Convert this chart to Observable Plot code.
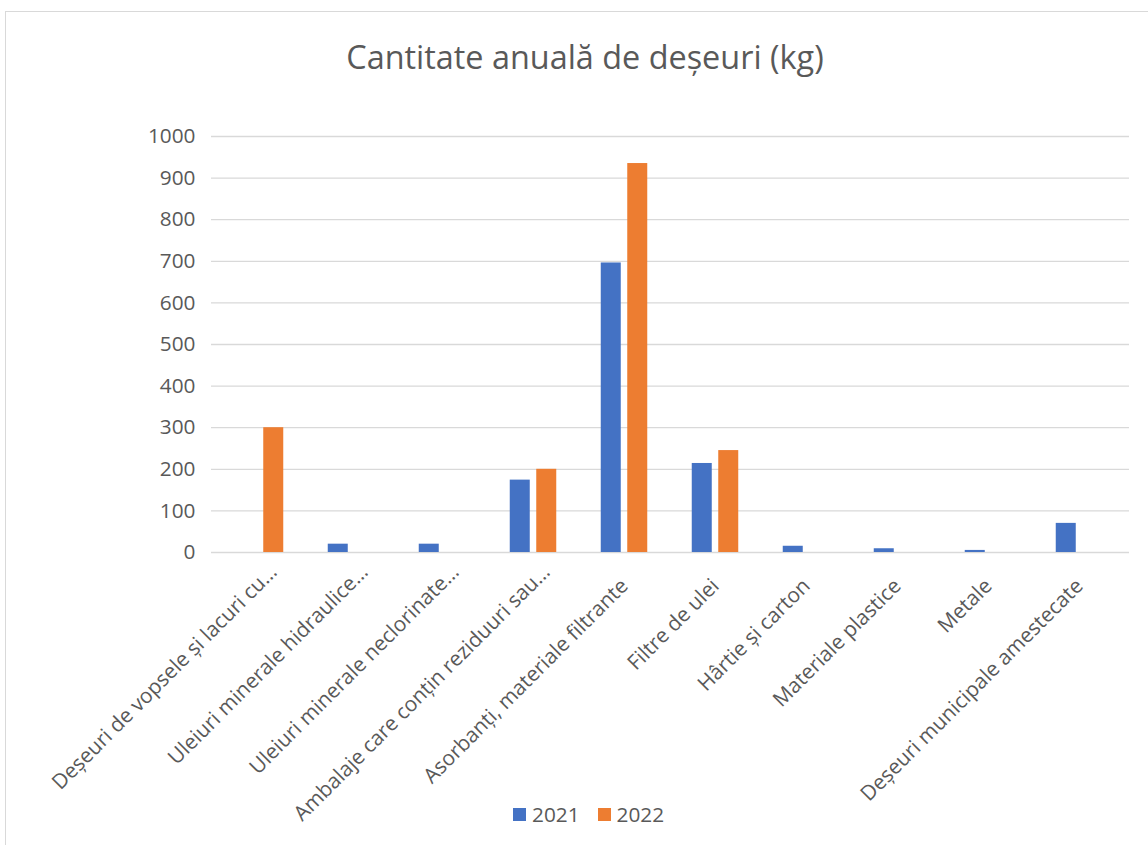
<!DOCTYPE html>
<html>
<head>
<meta charset="utf-8">
<script src="https://cdn.jsdelivr.net/npm/d3@7"></script>
<script src="https://cdn.jsdelivr.net/npm/@observablehq/plot@0.6"></script>
<style>
  html, body { margin: 0; padding: 0; background: #fff; overflow: hidden; }
  #page { position: relative; width: 1148px; height: 845px; overflow: hidden; font-family: "Open Sans", sans-serif; color: #595959; }
  #frame { position: absolute; left: 5px; top: 11px; width: 1300px; height: 1000px; border: 1px solid #d9d9d9; box-sizing: border-box; }
  #title { position: absolute; left: 0; top: 36px; width: 1170px; text-align: center; font-size: 32.4px; line-height: 40px; color: #595959; }
  #chart { position: absolute; left: 0; top: 85px; }
  #legend { position: absolute; left: 513px; top: 800px; display: flex; align-items: center; font-size: 20.8px; line-height: 28px; color: #595959; }
  .sw { width: 13px; height: 13px; display: inline-block; }
</style>
</head>
<body>
<div id="page">
  <div id="frame"></div>
  <div id="title"></div>
  <div id="chart"></div>
  <div id="legend"></div>
</div>
<script>
const titleText = "Cantitate anuală de deșeuri (kg)";
const categories = [
  "Deșeuri de vopsele și lacuri cu…",
  "Uleiuri minerale hidraulice…",
  "Uleiuri minerale neclorinate…",
  "Ambalaje care conțin reziduuri sau…",
  "Asorbanți, materiale filtrante",
  "Filtre de ulei",
  "Hârtie și carton",
  "Materiale plastice",
  "Metale",
  "Deșeuri municipale amestecate"
];
const years = ["2021", "2022"];
const values2021 = [0, 20, 20, 174, 696, 214, 15, 9, 5, 70];
const values2022 = [300, 0, 0, 200, 935, 245, 0, 0, 0, 0];
const yTicks = [0, 100, 200, 300, 400, 500, 600, 700, 800, 900, 1000];
const colors = ["#4472C4", "#ED7D31"];

document.getElementById("title").textContent = titleText;

const rows2021 = categories.map((c, i) => ({category: c, year: years[0], value: values2021[i]}));
const rows2022 = categories.map((c, i) => ({category: c, year: years[1], value: values2022[i]}));
const truncated = categories.filter(c => c.endsWith("…"));
const full = categories.filter(c => !c.endsWith("…"));

const chart = Plot.plot({
  width: 1148,
  height: 760,
  marginLeft: 211,
  marginRight: 19,
  marginTop: 51,
  marginBottom: 293,
  style: {fontFamily: "'Open Sans', sans-serif", fontSize: "20.8px", color: "#595959", background: "transparent"},
  x: {domain: categories, paddingInner: 0.777, paddingOuter: 0.3885, axis: null, label: null},
  y: {domain: [0, 1000], label: null, axis: null},
  color: {domain: years, range: colors},
  marks: [
    Plot.gridY(yTicks, {stroke: "#d9d9d9", strokeOpacity: 1, strokeWidth: 1.3}),
    Plot.axisY(yTicks, {tickSize: 0, tickPadding: 16, fill: "#595959", fontSize: 20.8, label: null, tickFormat: d => String(d)}),
    Plot.barY(rows2021, {x: "category", y: "value", fill: "year", dx: -13.25}),
    Plot.barY(rows2022, {x: "category", y: "value", fill: "year", dx: 13.25}),
    Plot.text(full, {x: d => d, text: d => d, frameAnchor: "bottom", rotate: -45, textAnchor: "end", lineAnchor: "middle", dy: 30, dx: 0, fill: "#595959", fontSize: 20.8}),
    Plot.text(truncated, {x: d => d, text: d => d, frameAnchor: "bottom", rotate: -45, textAnchor: "end", lineAnchor: "middle", dy: 16, dx: 13, fill: "#595959", fontSize: 20.8})
  ]
});
document.getElementById("chart").appendChild(chart);

const legend = document.getElementById("legend");
years.forEach((y, i) => {
  const sw = document.createElement("span");
  sw.className = "sw";
  sw.style.background = colors[i];
  sw.style.marginRight = "6px";
  sw.style.marginLeft = i === 0 ? "0px" : "18px";
  const t = document.createElement("span");
  t.textContent = y;
  legend.appendChild(sw);
  legend.appendChild(t);
});
</script>
</body>
</html>
